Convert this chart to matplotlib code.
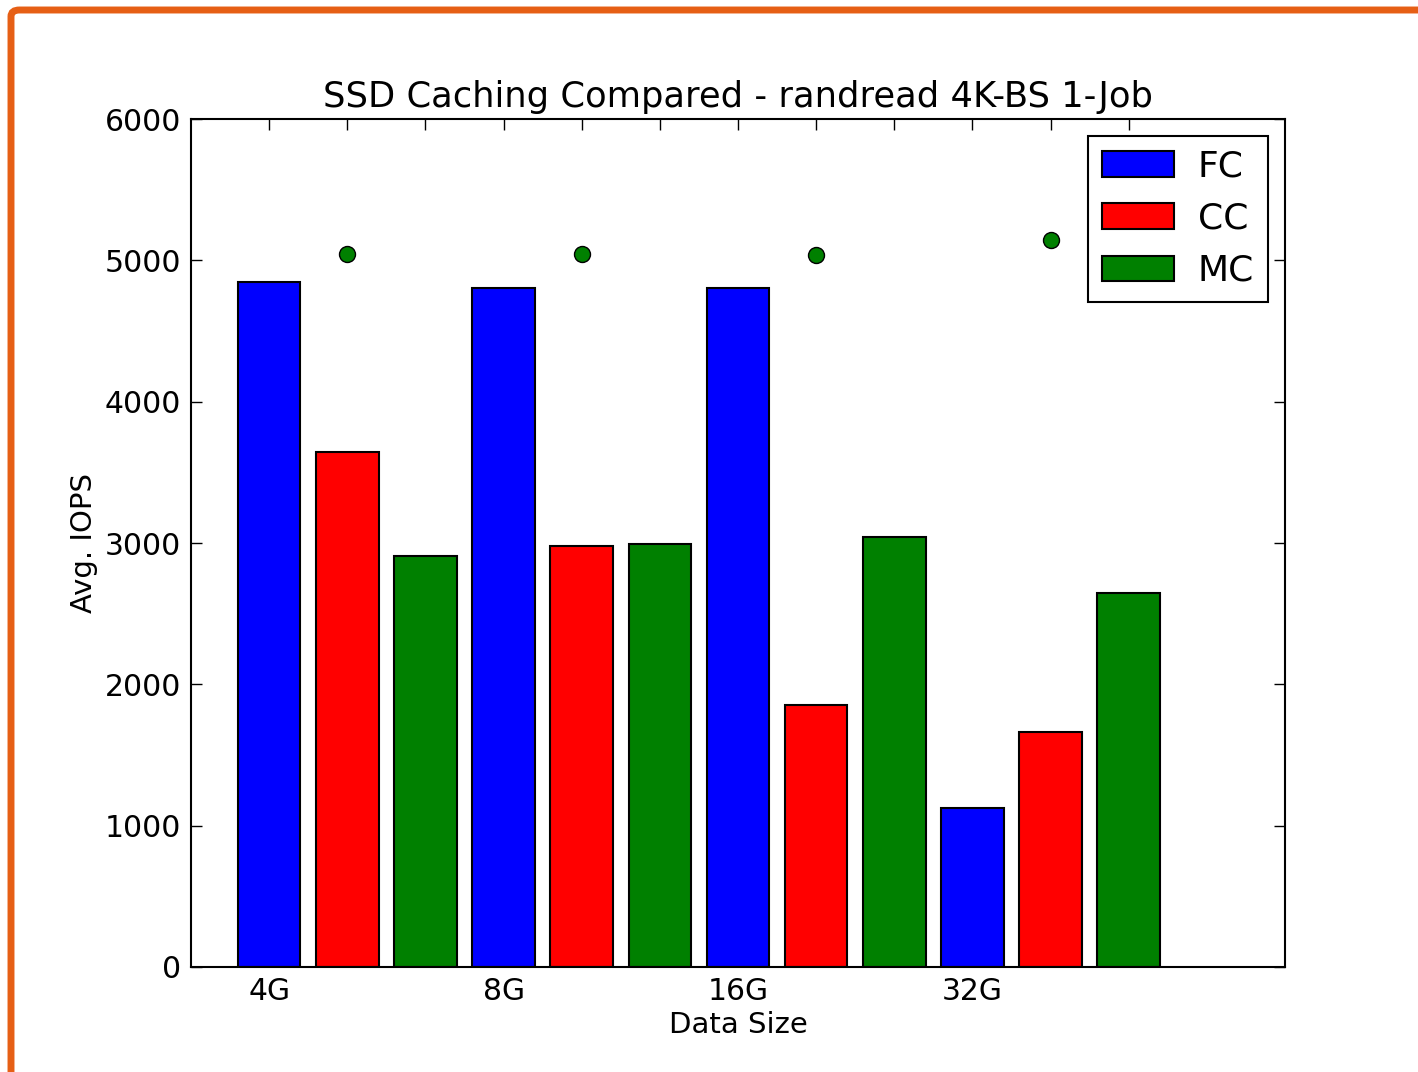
import matplotlib
matplotlib.use("Agg")
import matplotlib.pyplot as plt
from matplotlib.patches import FancyBboxPatch
import numpy as np

sizes = ["4G", "8G", "16G", "32G"]
series = ["FC", "CC", "MC"]
fc = [4850, 4805, 4805, 1125]
cc = [3645, 2980, 1855, 1665]
mc = [2910, 2995, 3045, 2645]
dots = [5045, 5045, 5040, 5145]
colors = ["#0000ff", "#ff0000", "#008000"]

fig = plt.figure(figsize=(14.18, 10.72), dpi=100)
ax = fig.add_axes([191/1418, 1-967/1072, (1285-191)/1418, (967-119)/1072])

# orange slide border
border = FancyBboxPatch((11/1418, -0.1), 1.2, 1.1 - 10/1072,
                        boxstyle="round,pad=0,rounding_size=0.006",
                        transform=fig.transFigure, fill=False,
                        edgecolor="#E65F15", linewidth=5, zorder=10)
fig.patches.append(border)

n = len(sizes)
for i, (vals, name, c) in enumerate(zip([fc, cc, mc], series, colors)):
    x = np.arange(n) * 3 + 1 + i
    ax.bar(x, vals, width=0.8, color=c, edgecolor="black", linewidth=1.5,
           label=name, zorder=2)

xd = np.arange(n) * 3 + 2
ax.plot(xd, dots, linestyle="none", marker="o", markersize=11.5,
        markerfacecolor="#008000", markeredgecolor="black", markeredgewidth=1, zorder=3)

ax.set_xlim(0, 14)
ax.set_ylim(0, 6000)
ax.set_xticks(np.arange(1, 13))
labels = [""] * 12
for i, s in enumerate(sizes):
    labels[i * 3] = s
ax.set_xticklabels(labels)
ax.set_yticks(np.arange(0, 6001, 1000))
ax.tick_params(direction="in", top=True, right=True, length=8, width=1,
               labelsize=21.5, pad=7)
for sp in ax.spines.values():
    sp.set_linewidth(1.5)

ax.set_title("SSD Caching Compared - randread 4K-BS 1-Job", fontsize=25.4, pad=9)
ax.set_xlabel("Data Size", fontsize=21, labelpad=4)
ax.set_ylabel("Avg. IOPS", fontsize=21, labelpad=5)

leg = ax.legend(loc="upper right", fontsize=26, fancybox=False, frameon=True,
                framealpha=1, handlelength=2.0, handleheight=0.7, borderpad=0.38,
                labelspacing=0.5, handletextpad=0.67, borderaxespad=0.47)
leg.get_frame().set_edgecolor("black")
leg.get_frame().set_linewidth(1.5)

fig.savefig("out.png", dpi=100)
